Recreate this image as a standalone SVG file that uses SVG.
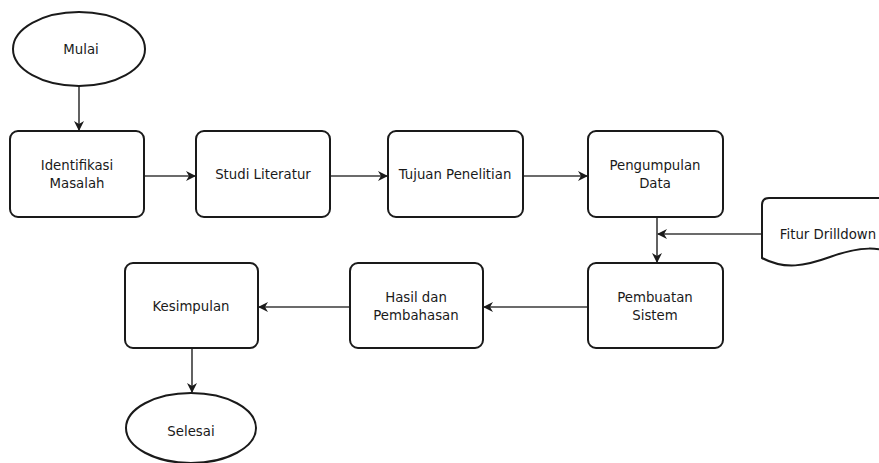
<svg xmlns="http://www.w3.org/2000/svg" width="879" height="463" viewBox="0 0 879 463">
<style>
.n{fill:#fff;stroke:#1a1a1a;stroke-width:2}
.t{font-family:"DejaVu Sans",Verdana,sans-serif;font-size:13.3px;fill:#1a1a1a;text-anchor:middle}
.c{fill:none;stroke:#3a3a3a;stroke-width:1.6}
</style>
<defs>
<marker id="ah" viewBox="0 0 10 10" refX="9" refY="5" markerWidth="10" markerHeight="10" markerUnits="userSpaceOnUse" orient="auto">
<path d="M0,0 L10,5 L0,10 L3,5 Z" fill="#1a1a1a"/>
</marker>
</defs>
<rect width="879" height="463" fill="#fff"/>
<g id="connectors">
<path class="c" d="M79,86 V130" marker-end="url(#ah)"/>
<path class="c" d="M144,176 H195" marker-end="url(#ah)"/>
<path class="c" d="M330,176 H387" marker-end="url(#ah)"/>
<path class="c" d="M523,176 H587" marker-end="url(#ah)"/>
<path class="c" d="M657,217 V262" marker-end="url(#ah)"/>
<path class="c" d="M762,234 H658" marker-end="url(#ah)"/>
<path class="c" d="M588,307 H484" marker-end="url(#ah)"/>
<path class="c" d="M350,307 H259" marker-end="url(#ah)"/>
<path class="c" d="M192,348 V392" marker-end="url(#ah)"/>
</g>
<g id="mulai">
<ellipse class="n" cx="79" cy="49" rx="66" ry="37"/>
<text class="t" x="81" y="54">Mulai</text>
</g>
<g id="identifikasi">
<rect class="n" x="10" y="131" width="134" height="86" rx="8"/>
<text class="t" x="77" y="170">Identifikasi</text>
<text class="t" x="77" y="188">Masalah</text>
</g>
<g id="studi">
<rect class="n" x="196" y="131" width="134" height="86" rx="8"/>
<text class="t" x="263" y="179">Studi Literatur</text>
</g>
<g id="tujuan">
<rect class="n" x="388" y="131" width="135" height="86" rx="8"/>
<text class="t" x="455" y="179">Tujuan Penelitian</text>
</g>
<g id="pengumpulan">
<rect class="n" x="588" y="131" width="135" height="86" rx="8"/>
<text class="t" x="655" y="170">Pengumpulan</text>
<text class="t" x="655" y="188">Data</text>
</g>
<g id="fitur">
<path class="n" d="M762,258 V205 Q762,198 769,198 H900 V256 C880,246 860,246 830,257 C805,266 785,270 762,258 Z"/>
<text class="t" x="828" y="239">Fitur Drilldown</text>
</g>
<g id="pembuatan">
<rect class="n" x="588" y="263" width="135" height="85" rx="8"/>
<text class="t" x="655" y="302">Pembuatan</text>
<text class="t" x="655" y="320">Sistem</text>
</g>
<g id="hasil">
<rect class="n" x="350" y="263" width="133" height="85" rx="8"/>
<text class="t" x="416" y="302">Hasil dan</text>
<text class="t" x="416" y="320">Pembahasan</text>
</g>
<g id="kesimpulan">
<rect class="n" x="125" y="263" width="133" height="85" rx="8"/>
<text class="t" x="191" y="311">Kesimpulan</text>
</g>
<g id="selesai">
<ellipse class="n" cx="191" cy="428" rx="65" ry="35"/>
<text class="t" x="191" y="436">Selesai</text>
</g>
</svg>
